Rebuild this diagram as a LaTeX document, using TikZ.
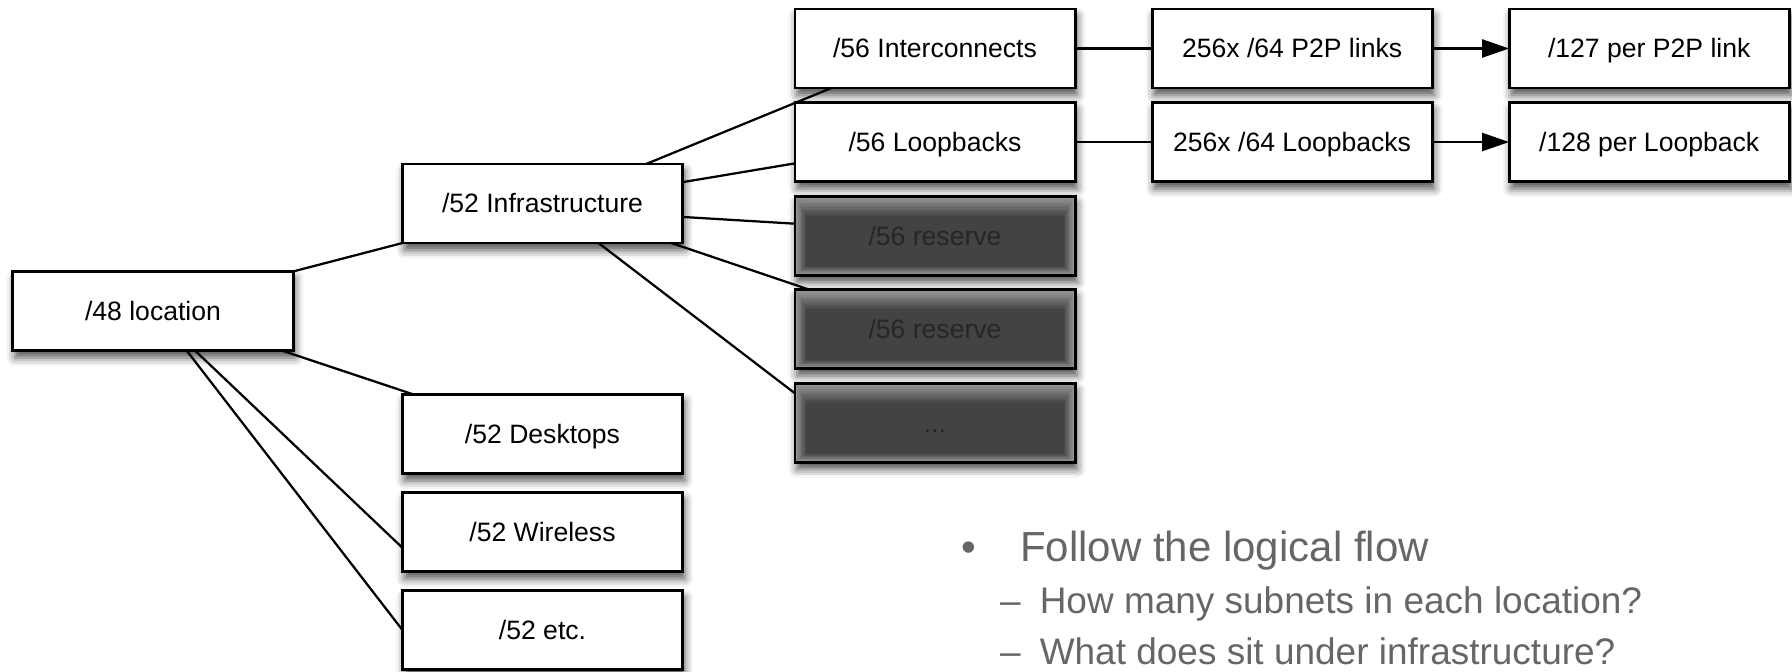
\documentclass[tikz,border=0pt]{standalone}
\usepackage{fontspec}
\setmainfont{Liberation Sans}
\usetikzlibrary{positioning,calc,arrows.meta,shadows.blur}
\definecolor{glowedge}{HTML}{9A9A9A}
\definecolor{glowcore}{HTML}{434343}
\definecolor{notegray}{HTML}{666666}

\begin{document}
\begin{tikzpicture}[x=0.025cm, y=-0.025cm, outer sep=0pt,
    netbox/.style={draw, line width=2.1pt, fill=white, inner sep=0pt,
        minimum width=7cm, minimum height=1.975cm,
        font=\fontsize{18.9pt}{22pt}\selectfont, text height=13.5pt, text depth=0pt,
        blur shadow={shadow xshift=1.5pt, shadow yshift=-5pt, shadow blur radius=6pt, shadow opacity=70}},
    resbox/.style={netbox, fill=glowedge, text=black!85,
        path picture={
            \foreach \k [evaluate=\k as \p using int(100*\k/14)] in {1,...,14}
                \fill[glowcore!\p!glowedge]
                    ($(path picture bounding box.north west)+(\k*0.02cm,-\k*0.035cm)$)
                    rectangle ($(path picture bounding box.south east)+(-\k*0.02cm,\k*0.015cm)$);
        }},
    notetext/.style={inner sep=0pt, anchor=base west, text=notegray, font=\fontsize{29.9pt}{36pt}\selectfont},
    subtext/.style={notetext, font=\fontsize{26.3pt}{32pt}\selectfont},
    link/.style={line width=1.6pt},
    flowarrow/.style={link, -{Triangle[length=0.675cm, width=0.45cm]}}]

    \useasboundingbox (0,0) rectangle (1792,671);

    % left side
    \node [netbox] (loc) at (153,311) {/48 location};
    \node [netbox] (infra) at (542.5,203.5) {/52 Infrastructure};
    \node [netbox] (desk) at (542.5,434) {/52 Desktops};
    \node [netbox, below=0.475cm of desk] (wifi) {/52 Wireless};
    \node [netbox, below=0.475cm of wifi] (misc) {/52 etc.};

    % infrastructure column
    \node [netbox] (inter) at (935,48.5) {/56 Interconnects};
    \node [netbox, below=0.3625cm of inter] (loop) {/56 Loopbacks};
    \node [resbox, below=0.3625cm of loop] (resA) {/56 reserve};
    \node [resbox, below=0.3625cm of resA] (resB) {/56 reserve};
    \node [resbox, below=0.3625cm of resB] (more) {...};

    % per link / per loopback
    \node [netbox, right=1.925cm of inter] (ptp) {256x /64 P2P links};
    \node [netbox, right=1.925cm of loop] (lpb) {256x /64 Loopbacks};
    \node [netbox, right=1.925cm of ptp] (perlink) {/127 per P2P link};
    \node [netbox, right=1.925cm of lpb] (perloop) {/128 per Loopback};

    \draw [link] (loc.north east) -- (infra.south west);
    \draw [link] ($(loc.south west)!0.96!(loc.south east)$) -- ($(desk.north west)!0.04!(desk.north east)$);
    \draw [link] ($(loc.south west)!0.65!(loc.south east)$) -- ($(wifi.north west)!0.7!(wifi.south west)$);
    \draw [link] ($(loc.south west)!0.62!(loc.south east)$) -- (misc.west);

    \draw [link] ($(infra.north west)!0.87!(infra.north east)$) -- ($(inter.south west)!0.13!(inter.south east)$);
    \draw [link] ($(infra.north east)!0.23!(infra.south east)$) -- ($(loop.north west)!0.77!(loop.south west)$);
    \draw [link] ($(infra.north east)!0.67!(infra.south east)$) -- ($(resA.north west)!0.35!(resA.south west)$);
    \draw [link] ($(infra.south west)!0.96!(infra.south east)$) -- ($(resB.north west)!0.05!(resB.north east)$);
    \draw [link] ($(infra.south west)!0.70!(infra.south east)$) -- ($(more.north west)!0.13!(more.south west)$);

    \draw [link] (inter.east) -- (ptp.west);
    \draw [link] (loop.east) -- (lpb.west);
    \draw [flowarrow] (ptp.east) -- (perlink.west);
    \draw [flowarrow] (lpb.east) -- (perloop.west);

    % notes
    \node [notetext] (bul) at (961,561) {•};
    \node [notetext] (flow) at (1020,561) {Follow the logical flow};
    \node [subtext] (qA) at (1000,613) {–\hspace{0.48cm}How many subnets in each location?};
    \node [subtext] (qB) at (1000,664) {–\hspace{0.48cm}What does sit under infrastructure?};

\end{tikzpicture}
\end{document}
